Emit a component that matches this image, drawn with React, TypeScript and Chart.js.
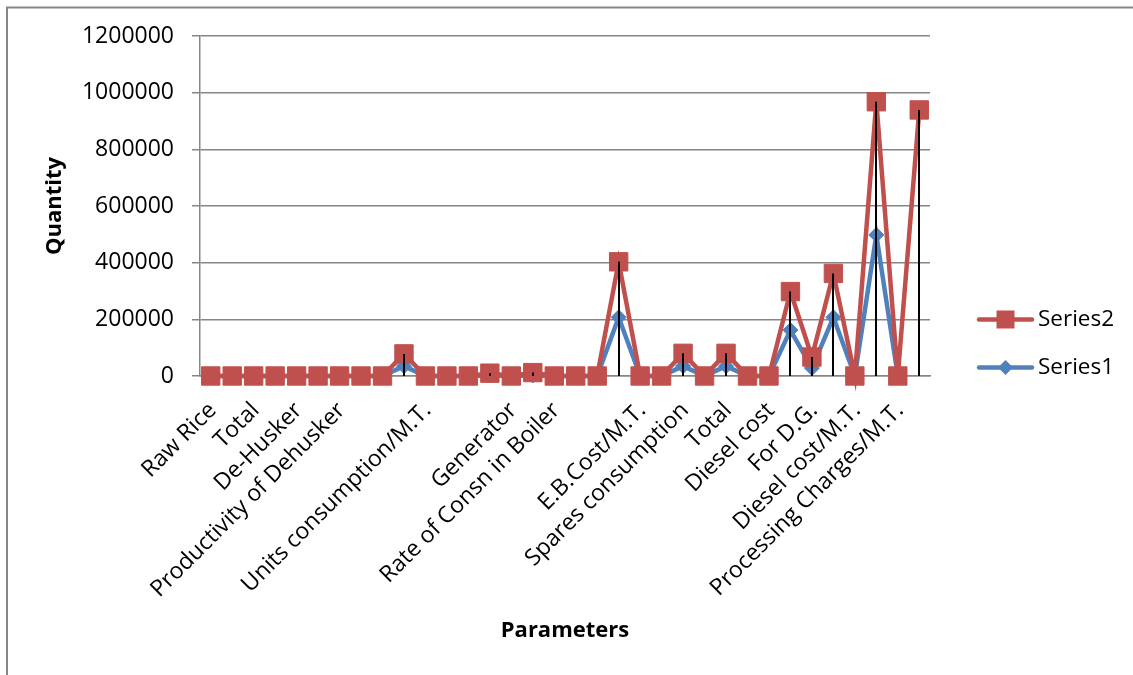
import React, { useEffect, useRef } from "react";
import { Chart, registerables } from "chart.js";

Chart.register(...registerables);

// ---- data ----
const categories: string[] = [
  "Raw Rice", "", "Total", "", "De-Husker", "", "Productivity of Dehusker", "", "", "",
  "Units consumption/M.T.", "", "", "", "Generator", "", "Rate of Consn in Boiler", "", "", "",
  "E.B.Cost/M.T.", "", "Spares consumption", "", "Total", "", "Diesel cost", "", "For D.G.", "",
  "Diesel cost/M.T.", "", "Processing Charges/M.T.", "",
];

const series1: (number | null)[] = [
  0, 0, 0, 0, 0, 0, 0, 0, 0, 35000,
  0, 0, 0, 2000, 0, 2000, 0, 0, 0, 207000,
  0, 0, 35000, 0, 35000, 0, 0, 162000, 28000, 207000,
  0, 498000, 0, null,
];

const series2: number[] = [
  0, 0, 0, 0, 0, 0, 0, 0, 0, 43000,
  0, 0, 0, 8000, 0, 10000, 0, 0, 0, 196000,
  0, 0, 45000, 0, 45000, 0, 0, 136000, 39000, 155000,
  0, 470000, 0, 939000,
];

const yTicks: number[] = [0, 200000, 400000, 600000, 800000, 1000000, 1200000];

const seriesNames = ["Series1", "Series2"];

// stacked line: Series2 is drawn on top of Series1
const series2Stacked = series2.map((v, i) => v + (series1[i] ?? 0));

const FONT = '"Open Sans", sans-serif';
const BLUE = "#4F81BD";
const RED = "#C0504D";
const GRID = "#868686";

const framePlugin = {
  id: "frame",
  beforeDraw(chart: any) {
    const ctx = chart.ctx;
    ctx.save();
    ctx.fillStyle = "#ffffff";
    ctx.fillRect(0, 0, chart.width, chart.height);
    ctx.strokeStyle = GRID;
    ctx.lineWidth = 2;
    ctx.beginPath();
    ctx.moveTo(7, chart.height + 5);
    ctx.lineTo(7, 7.5);
    ctx.lineTo(chart.width + 5, 7.5);
    ctx.stroke();
    ctx.restore();
  },
};

const dropLinesPlugin = {
  id: "dropLines",
  afterDatasetsDraw(chart: any) {
    const ctx = chart.ctx;
    const base = chart.scales.y.getPixelForValue(0);
    const metas = chart.getSortedVisibleDatasetMetas();
    const n = chart.data.labels.length;
    ctx.save();
    ctx.strokeStyle = "#000000";
    ctx.lineWidth = 2;
    for (let i = 0; i < n; i++) {
      let top = base;
      let x: number | null = null;
      metas.forEach((m: any) => {
        const p = m.data[i];
        if (p && !p.skip && isFinite(p.y)) {
          x = p.x;
          top = Math.min(top, p.y);
        }
      });
      if (x === null || top >= base - 0.5) continue;
      const xx = Math.round(x as number);
      ctx.beginPath();
      ctx.moveTo(xx, top);
      ctx.lineTo(xx, base);
      ctx.stroke();
    }
    ctx.restore();
  },
};

const legendPlugin = {
  id: "excelLegend",
  afterDraw(chart: any) {
    const ctx = chart.ctx;
    const ds = chart.data.datasets;
    const entries = [
      { d: ds[1], y: 319.5, shape: "rect" },
      { d: ds[0], y: 367.5, shape: "diamond" },
    ];
    ctx.save();
    entries.forEach((e) => {
      const color = e.d.borderColor;
      ctx.strokeStyle = color;
      ctx.lineWidth = 4.5;
      ctx.lineCap = "round";
      ctx.beginPath();
      ctx.moveTo(979, e.y);
      ctx.lineTo(1032, e.y);
      ctx.stroke();
      ctx.fillStyle = color;
      const cx = 1005.5;
      if (e.shape === "rect") {
        ctx.fillRect(cx - 9, e.y - 9, 18, 18);
      } else {
        ctx.beginPath();
        ctx.moveTo(cx - 7.5, e.y);
        ctx.lineTo(cx, e.y - 7.5);
        ctx.lineTo(cx + 7.5, e.y);
        ctx.lineTo(cx, e.y + 7.5);
        ctx.closePath();
        ctx.fill();
      }
      ctx.fillStyle = "#000000";
      ctx.font = `22.5px ${FONT}`;
      ctx.textAlign = "left";
      ctx.textBaseline = "middle";
      ctx.fillText(e.d.label, 1038, e.y + 0.5);
    });
    ctx.restore();
  },
};

export default function App() {
  const canvasRef = useRef<HTMLCanvasElement | null>(null);

  useEffect(() => {
    if (!canvasRef.current) return;
    Chart.defaults.font.family = FONT;
    const chart = new Chart(canvasRef.current, {
      type: "line",
      data: {
        labels: categories,
        datasets: [
          {
            label: seriesNames[0],
            data: series1,
            borderColor: BLUE,
            backgroundColor: BLUE,
            pointBackgroundColor: BLUE,
            pointBorderColor: BLUE,
            borderWidth: 4.5,
            pointStyle: "rectRot",
            pointRadius: 7.5,
            pointBorderWidth: 1,
            tension: 0,
            order: 1,
            clip: false as any,
          },
          {
            label: seriesNames[1],
            data: series2Stacked,
            borderColor: RED,
            backgroundColor: RED,
            pointBackgroundColor: RED,
            pointBorderColor: RED,
            borderWidth: 4.5,
            pointStyle: "rect",
            pointRadius: 13,
            pointBorderWidth: 1,
            tension: 0,
            order: 0,
            clip: false as any,
          },
        ],
      },
      options: {
        responsive: false,
        animation: false,
        devicePixelRatio: 1,
        layout: { padding: { left: 0, right: 203, top: 36, bottom: 0 } },
        plugins: {
          legend: { display: false },
          tooltip: { enabled: false },
        },
        scales: {
          x: {
            offset: true,
            grid: { display: false, drawTicks: false },
            border: { display: true, color: GRID, width: 1.5 },
            ticks: {
              autoSkip: false,
              minRotation: 45,
              maxRotation: 45,
              padding: 21,
              labelOffset: 2,
              color: "#000000",
              font: { size: 23, family: FONT },
            },
            title: {
              display: true,
              text: "Parameters",
              color: "#000000",
              font: { size: 22, weight: "bold", family: FONT },
              padding: { top: 0, bottom: 31 },
            },
            afterFit: (s: any) => {
              s.height = 299;
            },
          },
          y: {
            min: yTicks[0],
            max: yTicks[yTicks.length - 1],
            afterBuildTicks: (s: any) => {
              s.ticks = yTicks.map((v) => ({ value: v }));
            },
            grid: { color: GRID, lineWidth: 1.5, tickLength: 8, drawTicks: true },
            border: { display: true, color: GRID, width: 1.5 },
            ticks: {
              padding: 18,
              color: "#000000",
              font: { size: 23, family: FONT },
              callback: (v: any) => String(v),
            },
            title: {
              display: true,
              text: "Quantity",
              color: "#000000",
              font: { size: 22, weight: "bold", family: FONT },
              padding: { top: 42, bottom: 0 },
            },
            afterFit: (s: any) => {
              s.width = 200;
            },
          },
        },
      },
      plugins: [framePlugin, dropLinesPlugin, legendPlugin],
    });
    return () => chart.destroy();
  }, []);

  return (
    <div style={{ position: "fixed", left: 0, top: 0, width: 1133, height: 675, background: "#fff" }}>
      <canvas ref={canvasRef} width={1133} height={675} style={{ display: "block" }} />
    </div>
  );
}
